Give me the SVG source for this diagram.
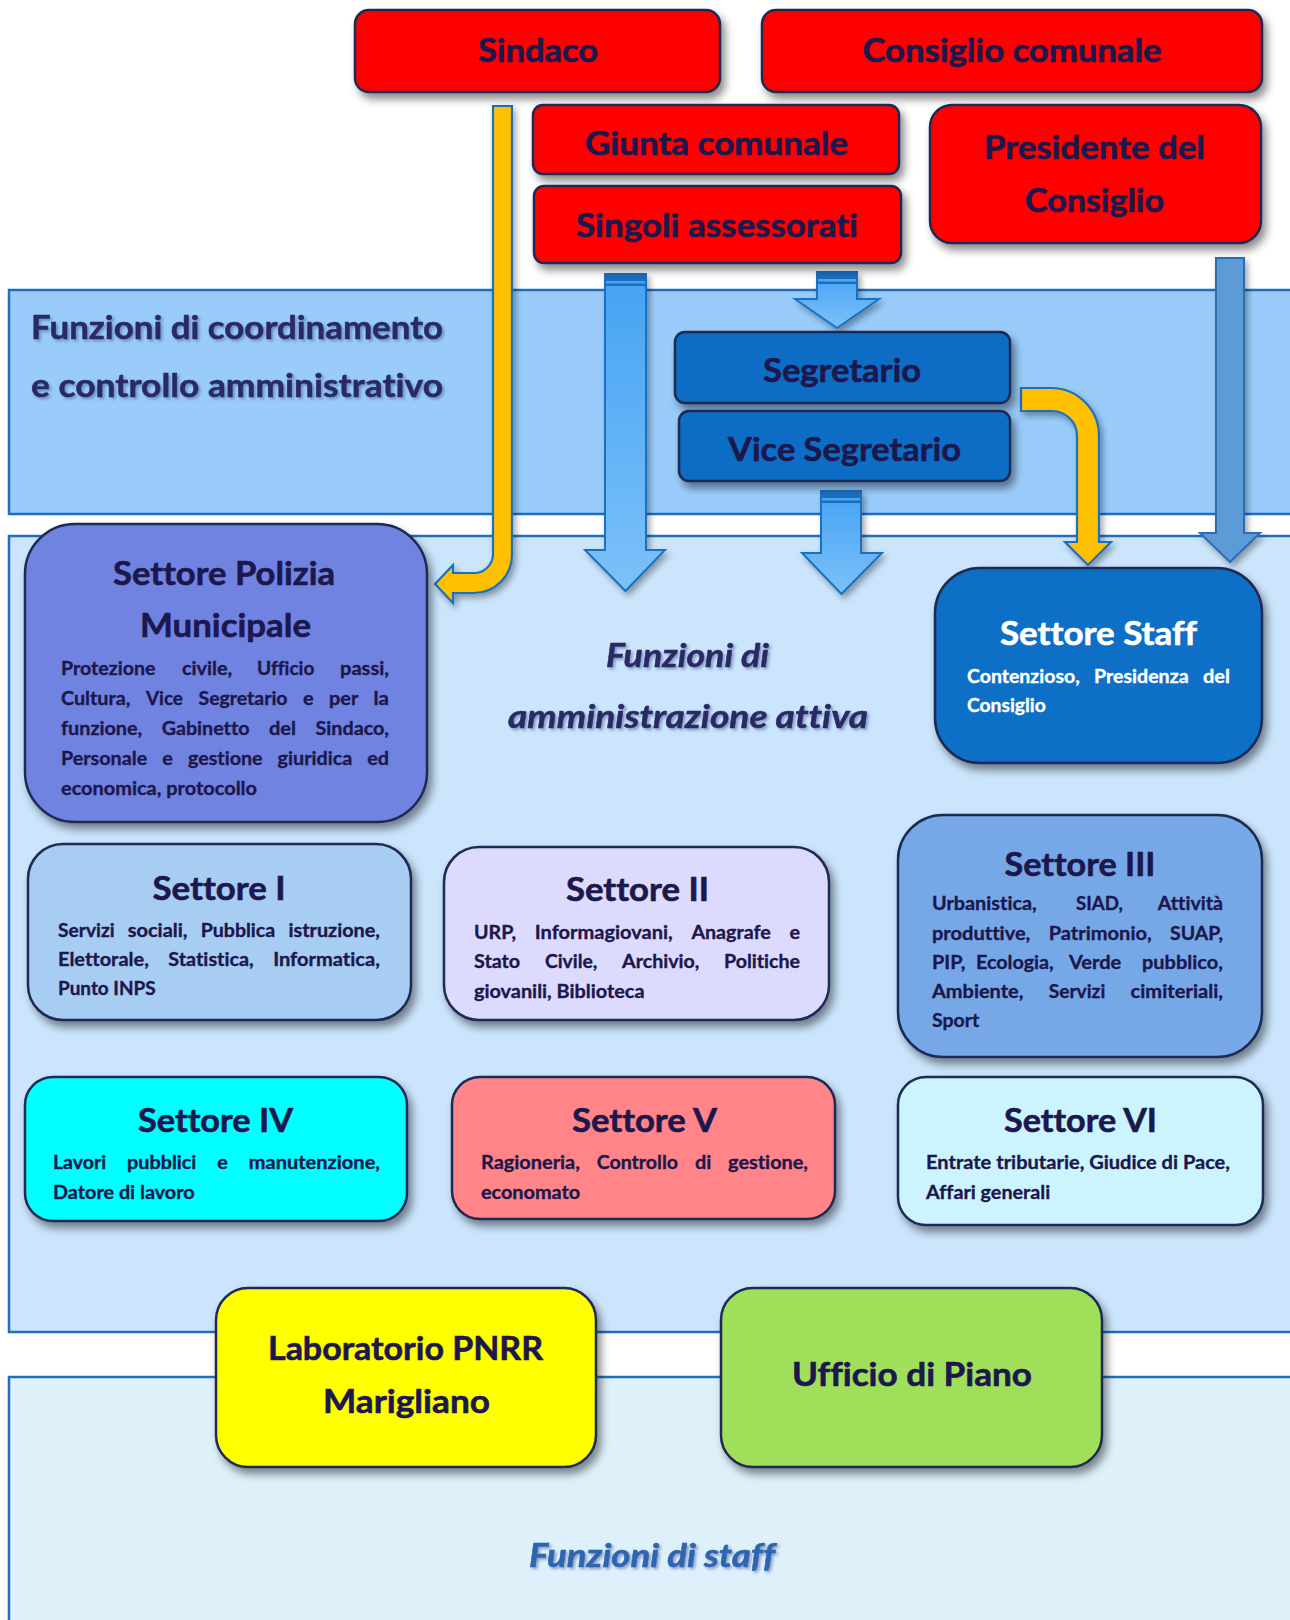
<svg xmlns="http://www.w3.org/2000/svg" width="1290" height="1620" viewBox="0 0 1290 1620">
<defs>
<filter id="sh" x="-10%" y="-10%" width="130%" height="130%"><feDropShadow dx="4" dy="6" stdDeviation="4" flood-color="#000" flood-opacity="0.45"/></filter>
<filter id="ash" x="-20%" y="-10%" width="150%" height="130%"><feDropShadow dx="3" dy="4" stdDeviation="3" flood-color="#000" flood-opacity="0.35"/></filter>
<filter id="tsh" x="-5%" y="-20%" width="110%" height="160%"><feDropShadow dx="2" dy="2" stdDeviation="1.5" flood-color="#4a5a9a" flood-opacity="0.55"/></filter>
<linearGradient id="blueArrow" x1="0" y1="0" x2="0" y2="1"><stop offset="0" stop-color="#45a3f3"/><stop offset="1" stop-color="#7cc1f9"/></linearGradient>
</defs>
<style>
text{font-variant-ligatures:none;font-feature-settings:"liga" 0,"clig" 0,"dlig" 0,"hlig" 0}
.band{stroke:#1f6ec0;stroke-width:2.5}
.box{stroke:#1f2a55;stroke-width:2.5;filter:url(#sh)}
.t{font-family:Lato,'Liberation Sans',sans-serif;font-weight:700;font-size:33px;fill:#1c174c;stroke:#1c174c;stroke-width:0.6;text-anchor:middle}
.b{font-family:Lato,'Liberation Sans',sans-serif;font-weight:700;font-size:19px;fill:#1c174c;stroke:#1c174c;stroke-width:0.35}
.w{fill:#ffffff;stroke:#ffffff}
.lab{font-family:Lato,'Liberation Sans',sans-serif;font-weight:700;font-size:33px;fill:#2b2a64;stroke:#2b2a64;stroke-width:0.5;filter:url(#tsh)}
.it{font-style:italic;text-anchor:middle}
.ba{fill:url(#blueArrow);stroke:#1b6fc0;stroke-width:2;filter:url(#ash)}
.bs{fill:#1b6fc0}
.ya{fill:#ffc000;stroke:#1f6fc0;stroke-width:2.2;filter:url(#ash)}
</style>
<rect width="1290" height="1620" fill="#ffffff"/>
<g id="bands">
<rect class="band" x="9" y="290" width="1300" height="224" fill="#99ccfb"/>
<rect class="band" x="9" y="536" width="1300" height="796" fill="#cbe5fc"/>
<rect class="band" x="9" y="1377" width="1300" height="260" fill="#def1fa"/>
</g>
<g id="band-labels">
<text class="lab" x="31" y="339" textLength="412" lengthAdjust="spacingAndGlyphs">Funzioni di coordinamento</text>
<text class="lab" x="31" y="397" textLength="412" lengthAdjust="spacingAndGlyphs">e controllo amministrativo</text>
<text class="lab it" x="687.5" y="667" textLength="163" lengthAdjust="spacingAndGlyphs">Funzioni di</text>
<text class="lab it" x="688" y="728" textLength="360" lengthAdjust="spacingAndGlyphs">amministrazione attiva</text>
<text class="lab it" x="652" y="1567" textLength="246" lengthAdjust="spacingAndGlyphs" style="fill:#2e65b0;stroke:#2e65b0">Funzioni di staff</text>
</g>
<g id="connectors">
<path class="ya" d="M493,106 H512 V555 A38,38 0 0 1 474,593 H453 V603 L435,584 L453,565 V573 H474 A19,19 0 0 0 493,554 Z"/>
<path class="ba" d="M605,274 H646 V550 H665 L625.5,591 L585,550 H605 Z"/>
<rect class="bs" x="605" y="274" width="41" height="7"/><rect class="bs" x="605" y="283.5" width="41" height="2.5"/>
<path class="ba" d="M817,272 H857 V299 H879 L837,328 L795,299 H817 Z"/>
<rect class="bs" x="817" y="272" width="40" height="7"/><rect class="bs" x="817" y="281.5" width="40" height="2.5"/>
<path class="ba" d="M821,491 H861 V553 H882 L841.5,594 L802,553 H821 Z"/>
<rect class="bs" x="821" y="491" width="40" height="7"/><rect class="bs" x="821" y="500.5" width="40" height="2.5"/>
<path d="M1216,258 H1244 V533 H1260 L1230,562 L1200,533 H1216 Z" fill="#5b9bd5" stroke="#2a6db5" stroke-width="2" filter="url(#ash)"/>
<path class="ya" d="M1021,388 H1051 A48,48 0 0 1 1099,436 V542 H1111 L1088,565 L1065,542 H1077 V436 A25,25 0 0 0 1052,411 H1021 Z"/>
</g>
<g id="sindaco">
<rect class="box" x="355" y="10" width="365" height="82" rx="14" fill="#fe0000"/>
<text class="t" x="538" y="62" textLength="120" lengthAdjust="spacingAndGlyphs">Sindaco</text>
</g>
<g id="consiglio-comunale">
<rect class="box" x="762" y="10" width="500" height="82" rx="14" fill="#fe0000"/>
<text class="t" x="1012" y="62" textLength="299" lengthAdjust="spacingAndGlyphs">Consiglio comunale</text>
</g>
<g id="giunta-comunale">
<rect class="box" x="533" y="105" width="366" height="69" rx="10" fill="#fe0000"/>
<text class="t" x="716.5" y="155" textLength="263" lengthAdjust="spacingAndGlyphs">Giunta comunale</text>
</g>
<g id="singoli-assessorati">
<rect class="box" x="534" y="186" width="367" height="77" rx="10" fill="#fe0000"/>
<text class="t" x="717" y="237" textLength="282" lengthAdjust="spacingAndGlyphs">Singoli assessorati</text>
</g>
<g id="presidente-consiglio">
<rect class="box" x="930" y="105" width="331" height="138" rx="22" fill="#fe0000"/>
<text class="t" x="1094.5" y="159" textLength="221" lengthAdjust="spacingAndGlyphs">Presidente del</text>
<text class="t" x="1094.5" y="212" textLength="139" lengthAdjust="spacingAndGlyphs">Consiglio</text>
</g>
<g id="segretario">
<rect class="box" x="675" y="332" width="335" height="71" rx="10" fill="#086dc5"/>
<text class="t" x="842" y="382" textLength="158" lengthAdjust="spacingAndGlyphs">Segretario</text>
</g>
<g id="vice-segretario">
<rect class="box" x="679" y="411" width="331" height="70" rx="10" fill="#086dc5"/>
<text class="t" x="844.5" y="461" textLength="233" lengthAdjust="spacingAndGlyphs">Vice Segretario</text>
</g>
<g id="settore-polizia">
<rect class="box" x="25" y="524" width="402" height="298" rx="50" fill="#7083e0"/>
<text class="t" x="224" y="585" textLength="222" lengthAdjust="spacingAndGlyphs">Settore Polizia</text>
<text class="t" x="225.5" y="637" textLength="171" lengthAdjust="spacingAndGlyphs">Municipale</text>
<text class="b" x="61" y="675" textLength="94.4" lengthAdjust="spacingAndGlyphs">Protezione</text>
<text class="b" x="182" y="675" textLength="50.2" lengthAdjust="spacingAndGlyphs">civile,</text>
<text class="b" x="257" y="675" textLength="57.4" lengthAdjust="spacingAndGlyphs">Ufficio</text>
<text class="b" x="340" y="675" textLength="49" lengthAdjust="spacingAndGlyphs">passi,</text>
<text class="b" x="61" y="705" textLength="69.4" lengthAdjust="spacingAndGlyphs">Cultura,</text>
<text class="b" x="146" y="705" textLength="36.9" lengthAdjust="spacingAndGlyphs">Vice</text>
<text class="b" x="198.5" y="705" textLength="89" lengthAdjust="spacingAndGlyphs">Segretario</text>
<text class="b" x="303" y="705" textLength="10.6" lengthAdjust="spacingAndGlyphs">e</text>
<text class="b" x="329" y="705" textLength="29.3" lengthAdjust="spacingAndGlyphs">per</text>
<text class="b" x="373.5" y="705" textLength="15.5" lengthAdjust="spacingAndGlyphs">la</text>
<text class="b" x="61" y="735" textLength="81.2" lengthAdjust="spacingAndGlyphs">funzione,</text>
<text class="b" x="161.7" y="735" textLength="87.8" lengthAdjust="spacingAndGlyphs">Gabinetto</text>
<text class="b" x="269" y="735" textLength="27" lengthAdjust="spacingAndGlyphs">del</text>
<text class="b" x="315.5" y="735" textLength="73.5" lengthAdjust="spacingAndGlyphs">Sindaco,</text>
<text class="b" x="61" y="765" textLength="86.2" lengthAdjust="spacingAndGlyphs">Personale</text>
<text class="b" x="162.3" y="765" textLength="10.6" lengthAdjust="spacingAndGlyphs">e</text>
<text class="b" x="188" y="765" textLength="74.5" lengthAdjust="spacingAndGlyphs">gestione</text>
<text class="b" x="277.6" y="765" textLength="74.6" lengthAdjust="spacingAndGlyphs">giuridica</text>
<text class="b" x="367.2" y="765" textLength="21.8" lengthAdjust="spacingAndGlyphs">ed</text>
<text class="b" x="61" y="795" textLength="196" lengthAdjust="spacingAndGlyphs">economica, protocollo</text>
</g>
<g id="settore-staff">
<rect class="box" x="935" y="568" width="327" height="195" rx="45" fill="#0a6fc6"/>
<text class="t w" x="1098.5" y="645" textLength="197" lengthAdjust="spacingAndGlyphs">Settore Staff</text>
<text class="b w" x="967" y="683" textLength="112.7" lengthAdjust="spacingAndGlyphs">Contenzioso,</text>
<text class="b w" x="1094" y="683" textLength="94.6" lengthAdjust="spacingAndGlyphs">Presidenza</text>
<text class="b w" x="1203" y="683" textLength="27" lengthAdjust="spacingAndGlyphs">del</text>
<text class="b w" x="967" y="712" textLength="78.8" lengthAdjust="spacingAndGlyphs">Consiglio</text>
</g>
<g id="settore-1">
<rect class="box" x="28" y="844" width="383" height="176" rx="35" fill="#a7cdf2"/>
<text class="t" x="219" y="900" textLength="133" lengthAdjust="spacingAndGlyphs">Settore I</text>
<text class="b" x="58" y="937" textLength="56.6" lengthAdjust="spacingAndGlyphs">Servizi</text>
<text class="b" x="127.8" y="937" textLength="59.7" lengthAdjust="spacingAndGlyphs">sociali,</text>
<text class="b" x="200.7" y="937" textLength="74.5" lengthAdjust="spacingAndGlyphs">Pubblica</text>
<text class="b" x="288.4" y="937" textLength="91.6" lengthAdjust="spacingAndGlyphs">istruzione,</text>
<text class="b" x="58" y="966" textLength="90.8" lengthAdjust="spacingAndGlyphs">Elettorale,</text>
<text class="b" x="168.3" y="966" textLength="85.4" lengthAdjust="spacingAndGlyphs">Statistica,</text>
<text class="b" x="273.2" y="966" textLength="106.7" lengthAdjust="spacingAndGlyphs">Informatica,</text>
<text class="b" x="58" y="995" textLength="97.6" lengthAdjust="spacingAndGlyphs">Punto INPS</text>
</g>
<g id="settore-2">
<rect class="box" x="444" y="847" width="385" height="173" rx="35" fill="#dcdafd"/>
<text class="t" x="637.5" y="901" textLength="143" lengthAdjust="spacingAndGlyphs">Settore II</text>
<text class="b" x="474" y="939" textLength="42.1" lengthAdjust="spacingAndGlyphs">URP,</text>
<text class="b" x="534.8" y="939" textLength="137.9" lengthAdjust="spacingAndGlyphs">Informagiovani,</text>
<text class="b" x="691.4" y="939" textLength="79.4" lengthAdjust="spacingAndGlyphs">Anagrafe</text>
<text class="b" x="789.5" y="939" textLength="10.6" lengthAdjust="spacingAndGlyphs">e</text>
<text class="b" x="474" y="968" textLength="46.2" lengthAdjust="spacingAndGlyphs">Stato</text>
<text class="b" x="544.9" y="968" textLength="52.5" lengthAdjust="spacingAndGlyphs">Civile,</text>
<text class="b" x="622.1" y="968" textLength="77.2" lengthAdjust="spacingAndGlyphs">Archivio,</text>
<text class="b" x="724.1" y="968" textLength="75.9" lengthAdjust="spacingAndGlyphs">Politiche</text>
<text class="b" x="474" y="998" textLength="170.5" lengthAdjust="spacingAndGlyphs">giovanili, Biblioteca</text>
</g>
<g id="settore-3">
<rect class="box" x="898" y="815" width="364" height="242" rx="45" fill="#76a8e8"/>
<text class="t" x="1080" y="876" textLength="151" lengthAdjust="spacingAndGlyphs">Settore III</text>
<text class="b" x="932" y="910" textLength="104.7" lengthAdjust="spacingAndGlyphs">Urbanistica,</text>
<text class="b" x="1076" y="910" textLength="46.9" lengthAdjust="spacingAndGlyphs">SIAD,</text>
<text class="b" x="1157.8" y="910" textLength="65.2" lengthAdjust="spacingAndGlyphs">Attività</text>
<text class="b" x="932" y="940" textLength="98.3" lengthAdjust="spacingAndGlyphs">produttive,</text>
<text class="b" x="1048.7" y="940" textLength="103" lengthAdjust="spacingAndGlyphs">Patrimonio,</text>
<text class="b" x="1170" y="940" textLength="53" lengthAdjust="spacingAndGlyphs">SUAP,</text>
<text class="b" x="932" y="969" textLength="33.4" lengthAdjust="spacingAndGlyphs">PIP,</text>
<text class="b" x="976" y="969" textLength="77.7" lengthAdjust="spacingAndGlyphs">Ecologia,</text>
<text class="b" x="1069" y="969" textLength="52.3" lengthAdjust="spacingAndGlyphs">Verde</text>
<text class="b" x="1142" y="969" textLength="80.9" lengthAdjust="spacingAndGlyphs">pubblico,</text>
<text class="b" x="932" y="998" textLength="91.4" lengthAdjust="spacingAndGlyphs">Ambiente,</text>
<text class="b" x="1048.7" y="998" textLength="56.6" lengthAdjust="spacingAndGlyphs">Servizi</text>
<text class="b" x="1130.6" y="998" textLength="92.4" lengthAdjust="spacingAndGlyphs">cimiteriali,</text>
<text class="b" x="932" y="1027" textLength="47.3" lengthAdjust="spacingAndGlyphs">Sport</text>
</g>
<g id="settore-4">
<rect class="box" x="25" y="1077" width="382" height="144" rx="28" fill="#00ffff"/>
<text class="t" x="215.5" y="1132" textLength="155" lengthAdjust="spacingAndGlyphs">Settore IV</text>
<text class="b" x="53" y="1169" textLength="53.1" lengthAdjust="spacingAndGlyphs">Lavori</text>
<text class="b" x="127" y="1169" textLength="69.4" lengthAdjust="spacingAndGlyphs">pubblici</text>
<text class="b" x="217.3" y="1169" textLength="10.6" lengthAdjust="spacingAndGlyphs">e</text>
<text class="b" x="248.8" y="1169" textLength="131.2" lengthAdjust="spacingAndGlyphs">manutenzione,</text>
<text class="b" x="53" y="1199" textLength="141.7" lengthAdjust="spacingAndGlyphs">Datore di lavoro</text>
</g>
<g id="settore-5">
<rect class="box" x="452" y="1077" width="383" height="142" rx="28" fill="#ff8589"/>
<text class="t" x="644.5" y="1132" textLength="145" lengthAdjust="spacingAndGlyphs">Settore V</text>
<text class="b" x="481" y="1169" textLength="98.9" lengthAdjust="spacingAndGlyphs">Ragioneria,</text>
<text class="b" x="596.7" y="1169" textLength="81.4" lengthAdjust="spacingAndGlyphs">Controllo</text>
<text class="b" x="694.9" y="1169" textLength="16.4" lengthAdjust="spacingAndGlyphs">di</text>
<text class="b" x="728.1" y="1169" textLength="79.9" lengthAdjust="spacingAndGlyphs">gestione,</text>
<text class="b" x="481" y="1199" textLength="99.2" lengthAdjust="spacingAndGlyphs">economato</text>
</g>
<g id="settore-6">
<rect class="box" x="898" y="1077" width="365" height="148" rx="28" fill="#ccf4fe"/>
<text class="t" x="1080.5" y="1132" textLength="153" lengthAdjust="spacingAndGlyphs">Settore VI</text>
<text class="b" x="926" y="1169" textLength="304" lengthAdjust="spacingAndGlyphs">Entrate tributarie, Giudice di Pace,</text>
<text class="b" x="926" y="1199" textLength="124.3" lengthAdjust="spacingAndGlyphs">Affari generali</text>
</g>
<g id="laboratorio-pnrr">
<rect class="box" x="216" y="1288" width="380" height="179" rx="32" fill="#ffff00"/>
<text class="t" x="405.5" y="1360" textLength="275" lengthAdjust="spacingAndGlyphs">Laboratorio PNRR</text>
<text class="t" x="406.5" y="1413" textLength="167" lengthAdjust="spacingAndGlyphs">Marigliano</text>
</g>
<g id="ufficio-di-piano">
<rect class="box" x="721" y="1288" width="381" height="179" rx="32" fill="#a0df5a"/>
<text class="t" x="912" y="1386" textLength="240" lengthAdjust="spacingAndGlyphs">Ufficio di Piano</text>
</g>
</svg>
